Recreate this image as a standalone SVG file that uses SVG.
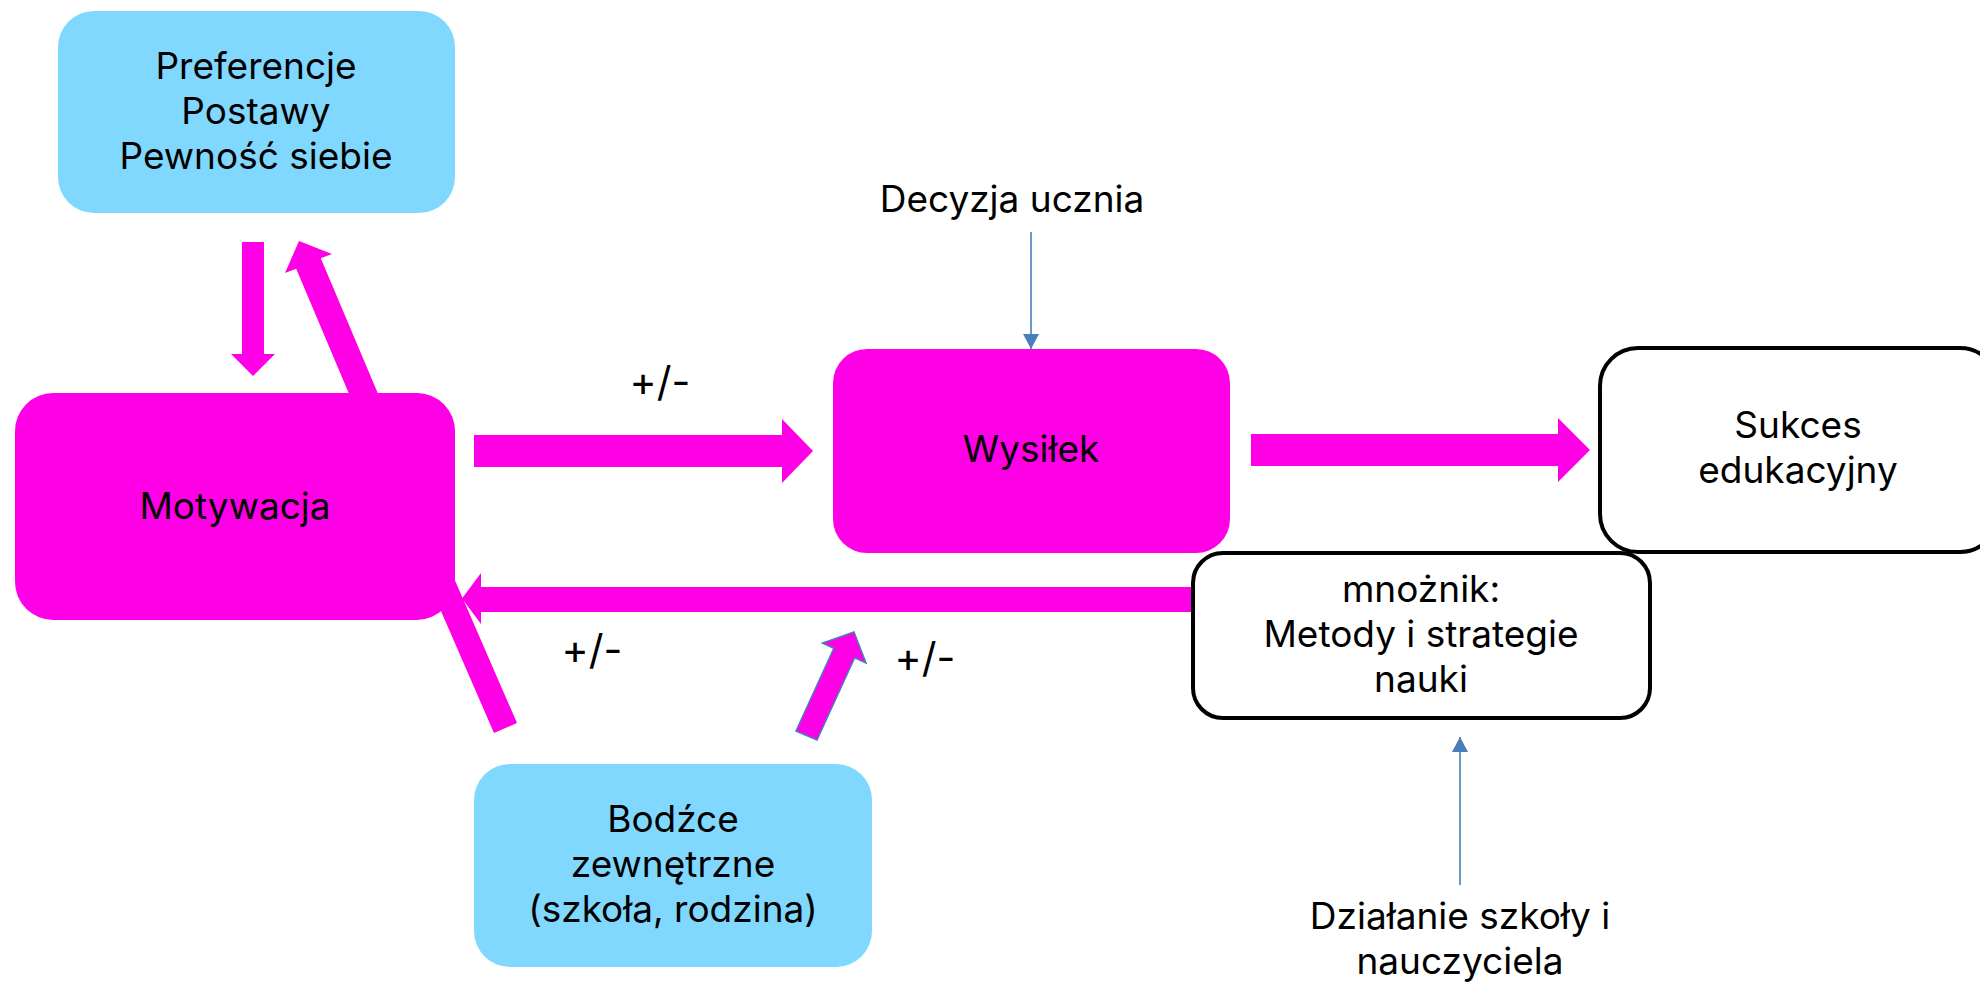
<svg xmlns="http://www.w3.org/2000/svg" width="1980" height="984" viewBox="0 0 1980 984">
<style>
.mag{fill:#ff00e6;}
.blue{fill:#80d8ff;}
.outl{fill:#ffffff;stroke:#000000;stroke-width:4;}
.t{font-family:Inter,"Open Sans","Liberation Sans",sans-serif;font-size:37px;fill:#000000;text-anchor:middle;}
.pm{font-size:41px;}
.ptr{stroke:#4a7ebb;stroke-width:1.6;fill:none;marker-end:url(#bh);}
.stroked{stroke:#4a7ebb;stroke-width:1.5;}
</style>
<defs>
<marker id="bh" viewBox="0 0 15 16" refX="15" refY="8" markerWidth="15" markerHeight="16" markerUnits="userSpaceOnUse" orient="auto">
<path d="M0,0 L15,8 L0,16 Z" fill="#4a7ebb"/>
</marker>
</defs>
<rect width="1980" height="984" fill="#ffffff"/>
<g id="connectors">
<polygon class="mag" points="242,242 264,242 264,354 275,354 253,376 231,354 242,354"/>
<polygon class="mag" points="362.3,425.2 296.2,268.7 285,273 299,241 332,254 320.8,258.3 386.9,414.8"/>
<polygon class="mag" points="474,435 782,435 782,419 813,451 782,483 782,467 474,467"/>
<polygon class="mag" points="1251,434 1558,434 1558,418 1590,450 1558,482 1558,466 1251,466"/>
<polygon class="mag" points="1200,587 481,587 481,573 462,598.5 481,624 481,612 1200,612"/>
<polygon class="mag" points="494,733 414.2,549.6 402.8,554.6 413.7,517.1 448.6,534.6 437.2,539.6 517,723"/>
<polygon class="mag stroked" points="796,731 833.8,648.2 822.5,643 854,632 866,663 854.7,657.8 817,740"/>
<line class="ptr" x1="1031" y1="232" x2="1031" y2="349"/>
<line class="ptr" x1="1460" y1="885" x2="1460" y2="737"/>
</g>
<g id="node-preferencje">
<rect class="blue" x="58" y="11" width="397" height="202" rx="36"/>
<text class="t" x="256" y="79">Preferencje</text>
<text class="t" x="256" y="124">Postawy</text>
<text class="t" x="256" y="169">Pewność siebie</text>
</g>
<g id="node-motywacja">
<rect class="mag" x="15" y="393" width="440" height="227" rx="38"/>
<text class="t" x="235" y="519">Motywacja</text>
</g>
<g id="node-wysilek">
<rect class="mag" x="833" y="349" width="397" height="204" rx="34"/>
<text class="t" x="1031" y="462">Wysiłek</text>
</g>
<g id="node-decyzja">
<text class="t" x="1012" y="212">Decyzja ucznia</text>
</g>
<g id="node-sukces">
<rect class="outl" x="1600" y="348" width="398" height="204" rx="38"/>
<text class="t" x="1798" y="438">Sukces</text>
<text class="t" x="1798" y="483">edukacyjny</text>
</g>
<g id="node-mnoznik">
<rect class="outl" x="1193" y="553" width="457" height="165" rx="30"/>
<text class="t" x="1421" y="602">mnożnik:</text>
<text class="t" x="1421" y="647">Metody i strategie</text>
<text class="t" x="1421" y="692">nauki</text>
</g>
<g id="node-bodzce">
<rect class="blue" x="474" y="764" width="398" height="203" rx="36"/>
<text class="t" x="673" y="832">Bodźce</text>
<text class="t" x="673" y="877">zewnętrzne</text>
<text class="t" x="673" y="922">(szkoła, rodzina)</text>
</g>
<g id="node-dzialanie">
<text class="t" x="1460" y="929">Działanie szkoły i</text>
<text class="t" x="1460" y="974">nauczyciela</text>
</g>
<g id="labels">
<text class="t pm" x="660" y="396">+/-</text>
<text class="t pm" x="592" y="664">+/-</text>
<text class="t pm" x="925" y="672">+/-</text>
</g>
</svg>
